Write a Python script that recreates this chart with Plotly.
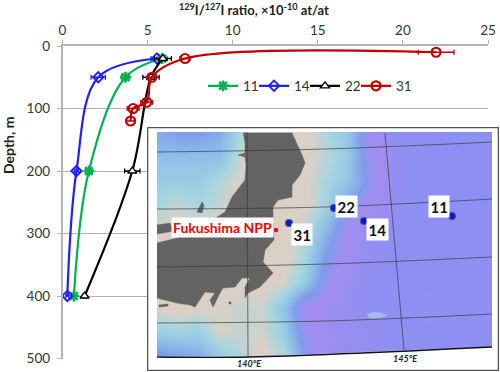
import plotly.graph_objects as go

W, H = 500, 372
FONT = "Lato"

# Profiles: depth (m) and 129I/127I ratio (x10^-10 at/at), with error half-widths
depth_11 = [20, 50, 200, 400]
ratio_11 = [5.85, 3.7, 1.55, 0.67]
err_11 = [0.3, 0.25, 0.2, 0.1]

depth_14 = [20, 50, 200, 400]
ratio_14 = [5.55, 2.1, 0.82, 0.28]
err_14 = [0.35, 0.42, 0.12, 0.08]

depth_22 = [20, 50, 200, 400]
ratio_22 = [5.9, 5.2, 4.1, 1.3]
err_22 = [0.5, 0.48, 0.45, 0.1]

depth_31 = [10, 20, 50, 90, 100, 120]
ratio_31 = [21.95, 7.2, 5.25, 4.95, 4.15, 4.0]
err_31 = [1.05, 0.3, 0.25, 0.35, 0.35, 0.25]

x_ticks = [0, 5, 10, 15, 20, 25]
y_ticks = [0, 100, 200, 300, 400, 500]

# Inset map: bathymetry class on a coarse grid (0 shelf ... 5 deep ocean)
map_cols = [157, 178, 199, 220, 241, 262, 283, 304, 325, 346, 367, 388, 409, 430, 451, 472, 493]
map_rows = [132, 157, 182, 207, 232, 257, 282, 307, 332, 357]
map_z = [
    [2.6, 3.0, 3.0, 2.6, 1.0, 0.0, 0.0, 0.0, 1.0, 1.6, 3.6, 5, 5, 5, 5, 5, 5],
    [2.0, 2.0, 2.0, 2.0, 0.5, 0.0, 0.0, 0.0, 0.7, 1.5, 3.5, 4.5, 5, 5, 5, 5, 5],
    [1.5, 1.5, 1.5, 0.8, 0.2, 0.0, 0.0, 0.1, 1.0, 1.7, 3.2, 4.5, 5, 5, 5, 5, 5],
    [1.0, 0.5, 1.0, 0.6, 0.0, 0.0, 0.0, 0.1, 1.2, 3.0, 4.0, 4.5, 5, 5, 5, 5, 5],
    [0.2, 0.2, 0.1, 0.0, 0.0, 0.0, 0.0, 0.7, 2.2, 4.0, 4.5, 5, 5, 5, 5, 5, 5],
    [0.1, 0.1, 0.1, 0.0, 0.0, 0.0, 0.0, 1.0, 3.0, 4.0, 4.7, 5, 5, 5, 5, 5, 5],
    [0.0, 0.0, 0.0, 0.0, 0.0, 0.0, 0.3, 1.5, 3.5, 4.5, 4.8, 5, 5, 5, 5, 5, 5],
    [0.2, 0.0, 0.1, 0.3, 0.6, 0.5, 1.8, 4.0, 4.2, 4.5, 5, 5, 5, 4.8, 5, 5, 5],
    [1.4, 1.2, 1.4, 0.3, 0.6, 0.4, 1.4, 3.6, 4.3, 4.5, 4.6, 5, 5, 5, 5, 5, 5],
    [3.3, 3.0, 2.6, 1.7, 0.8, 0.1, 0.8, 3.0, 4.4, 4.5, 4.7, 5, 5, 5, 5, 5, 5],
]
map_scale = [
    [0.00, "#dbd0c6"], [0.06, "#d9d0c7"], [0.20, "#a8d6de"], [0.40, "#8ec0e8"],
    [0.60, "#7f9cea"], [0.80, "#a48cef"], [1.00, "#8e8ff2"],
]

land_x = [243, 292, 302, 305, 300, 292, 292, 278, 273, 273, 274, 265, 263, 273, 260, 248, 245, 245,
          250, 242, 235, 223, 220, 213, 210, 215, 205, 195, 190, 177, 165, 157, 157, 177, 200, 212,
          225, 232, 245, 246, 245, 238, 245, 245]
land_y = [133, 133, 155, 163, 175, 185, 197, 200, 207, 222, 240, 250, 262, 273, 287, 293, 298, 287,
          278, 278, 287, 288, 293, 307, 300, 293, 292, 307, 305, 303, 300, 298, 243, 238, 228, 220,
          212, 197, 180, 165, 157, 155, 153, 145]
sado_x = [197, 202, 204, 202, 197]
sado_y = [212, 202, 205, 213, 212]
noto_x = [157, 170, 174, 157, 157]
noto_y = [225, 223, 231, 234, 225]
awaji_x = [159, 168, 168, 159, 159]
awaji_y = [305, 304, 306, 307, 305]
oshima_x = [229, 231, 231, 229, 229]
oshima_y = [302, 302, 304, 304, 302]
seamount_x = [367, 376, 387, 380, 370, 367]
seamount_y = [314, 312, 315, 318, 318, 314]

lat_lines_x = [157, 325, 492]
lat_lines_y = [[152, 149, 142], [209, 207, 199], [267, 264, 257], [323, 321, 314]]
lon_lines = [([247, 248], [132, 357]), ([385, 404], [133, 350])]
bottom_edge_x = [157, 250, 492]
bottom_edge_y = [357, 357, 347]

station_names = ["11", "14", "22", "31"]
station_x = [452, 364, 334, 289]
station_y = [216, 221, 208, 223]
label_x = [439, 377, 346, 302]
label_y = [207, 229, 207, 234]

npp_x = [276]
npp_y = [230]


def px(x):
    return x / W


def py(y):
    return 1 - y / H


fig = go.Figure()

series = [
    ("11", depth_11, ratio_11, err_11, "#00b050", "legend",
     dict(symbol="asterisk-open", size=9, line=dict(color="#00b050", width=2.5), color="#00b050")),
    ("14", depth_14, ratio_14, err_14, "#1f1fff", "legend2",
     dict(symbol="diamond-open", size=8, line=dict(color="#1f1fff", width=1.8), color="#1f1fff")),
    ("22", depth_22, ratio_22, err_22, "#000000", "legend3",
     dict(symbol="triangle-up", size=8, color="white", line=dict(color="#000000", width=1.3))),
    ("31", depth_31, ratio_31, err_31, "#c00000", "legend4",
     dict(symbol="circle-open", size=9, line=dict(color="#c00000", width=2.2), color="#c00000")),
]
for name, d, r, e, col, leg, mk in series:
    fig.add_trace(go.Scatter(
        x=r, y=d, name=name, mode="lines+markers", legend=leg, showlegend=True,
        line=dict(color=col, width=2.2, shape="spline", smoothing=1.0),
        marker=mk,
        error_x=dict(type="data", array=e, color=col, thickness=1.3, width=2.5),
        xaxis="x", yaxis="y", hoverinfo="skip",
    ))

# Inset frame
fig.add_trace(go.Scatter(
    x=[147.5, 498.5, 498.5, 147.5, 147.5], y=[127.5, 127.5, 370.5, 370.5, 127.5],
    mode="lines", fill="toself", fillcolor="white", line=dict(color="#555555", width=1.6),
    xaxis="x2", yaxis="y2", showlegend=False, hoverinfo="skip",
))

# Map
fig.add_trace(go.Heatmap(
    x=map_cols, y=map_rows, z=map_z, zmin=0, zmax=5, colorscale=map_scale,
    zsmooth="best", showscale=False, xaxis="x3", yaxis="y3", hoverinfo="skip",
))


def map_fill(xs, ys, col):
    fig.add_trace(go.Scatter(x=xs, y=ys, mode="lines", fill="toself", fillcolor=col,
                             line=dict(color=col, width=0.5), xaxis="x3", yaxis="y3",
                             showlegend=False, hoverinfo="skip"))


map_fill(seamount_x, seamount_y, "#a6b8ec")
map_fill(land_x, land_y, "#636363")
map_fill(sado_x, sado_y, "#636363")
map_fill(noto_x, noto_y, "#636363")
map_fill(awaji_x, awaji_y, "#636363")
map_fill(oshima_x, oshima_y, "#636363")

for ys in lat_lines_y:
    fig.add_trace(go.Scatter(x=lat_lines_x, y=ys, mode="lines",
                             line=dict(color="rgba(50,50,60,0.65)", width=1, shape="spline"),
                             xaxis="x3", yaxis="y3", showlegend=False, hoverinfo="skip"))
for xs, ys in lon_lines:
    fig.add_trace(go.Scatter(x=xs, y=ys, mode="lines", line=dict(color="rgba(50,50,60,0.65)", width=1),
                             xaxis="x3", yaxis="y3", showlegend=False, hoverinfo="skip"))

# Mask below the slanted bottom edge, then the edge itself
map_fill(bottom_edge_x + [492, 157], bottom_edge_y + [358, 358], "white")
fig.add_trace(go.Scatter(x=bottom_edge_x, y=bottom_edge_y, mode="lines",
                         line=dict(color="#111111", width=1.4, shape="spline"),
                         xaxis="x3", yaxis="y3", showlegend=False, hoverinfo="skip"))

# Stations and NPP
fig.add_trace(go.Scatter(x=station_x, y=station_y, mode="markers",
                         marker=dict(symbol="circle", size=7, color="#0a14e6",
                                     line=dict(color="#555566", width=1.2)),
                         xaxis="x3", yaxis="y3", showlegend=False, hoverinfo="skip"))
fig.add_trace(go.Scatter(x=npp_x, y=npp_y, mode="markers",
                         marker=dict(symbol="circle", size=4.5, color="#e01020"),
                         xaxis="x3", yaxis="y3", showlegend=False, hoverinfo="skip"))

annots = [
    dict(x=px(254), y=py(10), text="<b><sup>129</sup>I/<sup>127</sup>I ratio, ×10<sup>-10</sup> at/at</b>",
         font=dict(size=13, color="#222222")),
    dict(x=px(8), y=py(146), text="<b>Depth, m</b>", textangle=-90, font=dict(size=14, color="#222222")),
    dict(x=px(222.5), y=py(227.5), text="<b>Fukushima NPP</b>", font=dict(size=14, color="#ff0000"),
         bgcolor="white", borderpad=1),
    dict(x=px(249), y=py(363), text="<b><i>140°E</i></b>", font=dict(size=9, color="#222222")),
    dict(x=px(405), y=py(358), text="<b><i>145°E</i></b>", font=dict(size=9, color="#222222")),
]
for name, lx, ly in zip(station_names, label_x, label_y):
    annots.append(dict(x=px(lx), y=py(ly), text=f"<b>{name}</b>", font=dict(size=15, color="#111111"),
                       bgcolor="white", borderpad=1.5))
for a in annots:
    a.update(xref="paper", yref="paper", showarrow=False, xanchor="center", yanchor="middle")


def legend_at(x_pixel):
    return dict(orientation="h", x=px(x_pixel), y=py(86), xanchor="left", yanchor="middle",
                bgcolor="rgba(0,0,0,0)", font=dict(size=13.5, color="#333333"), itemwidth=30)


fig.update_layout(
    width=W, height=H, autosize=False,
    margin=dict(l=0, r=0, t=0, b=0, pad=0, autoexpand=False),
    paper_bgcolor="white", plot_bgcolor="white",
    font=dict(family=FONT, size=13.5, color="#333333"),
    annotations=annots,
    showlegend=True,
    legend=legend_at(203), legend2=legend_at(254), legend3=legend_at(305), legend4=legend_at(356),
    xaxis=dict(domain=[px(62.5), px(488)], range=[0, 25], side="top", tickvals=x_ticks,
               showgrid=False, zeroline=False, showline=True, linecolor="#b3b3b3", linewidth=1.5,
               ticks="outside", ticklen=4, tickcolor="#b3b3b3", anchor="y", fixedrange=True,
               automargin=False),
    yaxis=dict(domain=[py(358.5), py(46)], range=[500, 0], tickvals=y_ticks,
               showgrid=True, gridcolor="#b3b3b3", gridwidth=1.2, zeroline=False, showline=True,
               linecolor="#b3b3b3", linewidth=1.5, ticks="outside", ticklen=4, tickcolor="#b3b3b3",
               ticklabelstandoff=4, anchor="x", fixedrange=True, automargin=False),
    xaxis2=dict(domain=[px(147), px(499)], range=[147, 499], visible=False, anchor="y2", fixedrange=True,
                automargin=False),
    yaxis2=dict(domain=[py(371), py(127)], range=[371, 127], visible=False, anchor="x2", fixedrange=True,
                automargin=False),
    xaxis3=dict(domain=[px(157), px(492)], range=[157, 492], visible=False, anchor="y3", fixedrange=True,
                automargin=False),
    yaxis3=dict(domain=[py(358), py(132)], range=[358, 132], visible=False, anchor="x3", fixedrange=True,
                automargin=False),
)

fig.write_html("out.html", config=dict(displayModeBar=False),
               post_script="document.body.style.margin='0';document.documentElement.style.overflow='hidden';")
